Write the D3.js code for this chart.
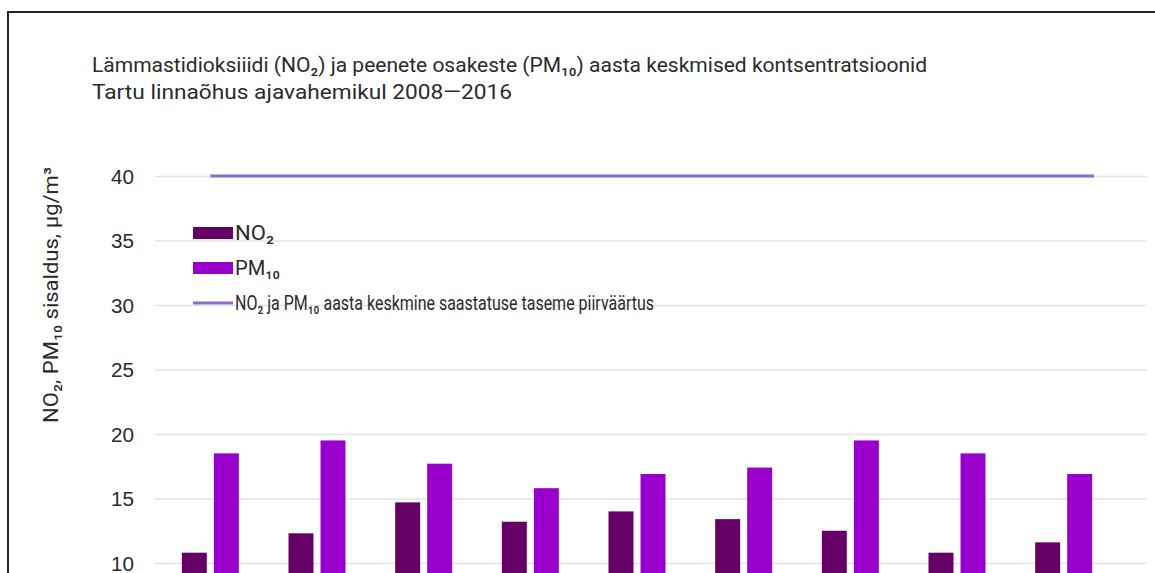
<!DOCTYPE html>
<html>
<head>
<meta charset="utf-8">
<script src="https://cdn.jsdelivr.net/npm/d3@7"></script>
<style>
	body { margin: 0; background: #fff; overflow: hidden; }
	svg { display: block; font-family: Roboto, "Noto Sans", "Liberation Sans", sans-serif; }
	.yAxis .tick text { font-size: 20px; fill: #2b2b2b; }
</style>
</head>
<body>
<div id="chart"></div>
<script>
// data
var years = ['2008', '2009', '2010', '2011', '2012', '2013', '2014', '2015', '2016'];
var no2 = [10.8, 12.3, 14.7, 13.2, 14.0, 13.4, 12.5, 10.8, 11.6];
var pm10 = [18.5, 19.5, 17.7, 15.8, 16.9, 17.4, 19.5, 18.5, 16.9];
var limitValue = [40, 40, 40, 40, 40, 40, 40, 40, 40];
var yTicks = [10, 15, 20, 25, 30, 35, 40];
var gridTicks = [0, 5, 10, 15, 20, 25, 30, 35, 40];
var seriesKeys = ['no2', 'pm10'];
var legendLabels = ['NO\u2082', 'PM\u2081\u2080', 'NO\u2082 ja PM\u2081\u2080 aasta keskmine saastatuse taseme piirväärtus'];

var cfg = {
	w: 1155,
	h: 573,
	left: 155,
	right: 1147,
	barLeft: 157,
	barRight: 1117,
	top: 176,
	zeroY: 692
};
var colors = { no2: '#660066', pm10: '#9900cc', limit: '#8a6bd1', text: '#2b2b2b' };

var svg = d3.select('#chart').append('svg')
	.attr('width', cfg.w)
	.attr('height', cfg.h);

// frame
svg.append('path')
	.attr('d', 'M8,' + (cfg.h + 5) + 'V12H' + (cfg.w + 5))
	.attr('fill', 'none')
	.attr('stroke', '#222')
	.attr('stroke-width', 2);

// title
svg.append('text')
	.attr('x', 92)
	.attr('y', 72)
	.style('font-size', '21px')
	.style('fill', colors.text)
	.attr('textLength', 835)
	.attr('lengthAdjust', 'spacingAndGlyphs')
	.text('Lämmastidioksiiidi (NO\u2082) ja peenete osakeste (PM\u2081\u2080) aasta keskmised kontsentratsioonid');

svg.append('text')
	.attr('x', 92)
	.attr('y', 99)
	.style('font-size', '21px')
	.style('fill', colors.text)
	.attr('textLength', 420)
	.attr('lengthAdjust', 'spacingAndGlyphs')
	.text('Tartu linnaõhus ajavahemikul 2008\u20142016');

// scales
var x = d3.scaleBand()
	.domain(years)
	.range([cfg.barLeft, cfg.barRight])
	.padding(0);
var bw = x.bandwidth();
var xSub = d3.scaleBand()
	.domain(seriesKeys)
	.range([bw / 2 - 28.5, bw / 2 + 28.5])
	.paddingInner(0.22);
var y = d3.scaleLinear()
	.domain([0, 40])
	.range([cfg.zeroY, cfg.top]);

// grid
svg.append('g')
	.classed('grid', true)
	.attr('transform', 'translate(' + cfg.left + ',0)')
	.call(function(g) {
		g.call(d3.axisLeft(y).tickValues(gridTicks).tickSize(-(cfg.right - cfg.left)).tickFormat(''));
		g.select('.domain').remove();
		g.selectAll('.tick line').attr('stroke', '#e3e3e3').attr('stroke-width', 1.3);
	});

// y axis labels
svg.append('g')
	.classed('yAxis', true)
	.attr('transform', 'translate(' + cfg.left + ',0)')
	.call(function(g) {
		g.call(d3.axisLeft(y).tickValues(yTicks).tickSize(0).tickPadding(21));
		g.select('.domain').remove();
		g.selectAll('.tick text')
			.attr('dy', '0.35em')
			.attr('textLength', 23)
			.attr('lengthAdjust', 'spacingAndGlyphs');
	});

// y axis label
svg.append('text')
	.attr('transform', 'translate(58,295) rotate(-90)')
	.attr('text-anchor', 'middle')
	.style('font-size', '20px')
	.style('fill', colors.text)
	.attr('textLength', 256)
	.attr('lengthAdjust', 'spacingAndGlyphs')
	.text('NO\u2082, PM\u2081\u2080 sisaldus, µg/m³');

// bars
var rows = years.map(function(yr, i) {
	return { year: yr, no2: no2[i], pm10: pm10[i] };
});
var groups = svg.append('g')
	.classed('bargroup', true)
	.selectAll('g')
	.data(rows)
	.enter()
	.append('g')
	.attr('transform', function(d) { return 'translate(' + x(d.year) + ',0)'; });

groups.selectAll('rect')
	.data(function(d) {
		return seriesKeys.map(function(k) { return { key: k, value: d[k] }; });
	})
	.enter()
	.append('rect')
	.attr('x', function(d) { return xSub(d.key); })
	.attr('width', xSub.bandwidth())
	.attr('y', function(d) { return y(d.value); })
	.attr('height', function(d) { return cfg.zeroY - y(d.value); })
	.attr('fill', function(d) { return colors[d.key]; });

// limit line
var lineX = d3.scalePoint()
	.domain(years)
	.range([x(years[0]) + bw / 2, cfg.right - 53]);
svg.append('path')
	.datum(limitValue)
	.attr('fill', 'none')
	.attr('stroke', colors.limit)
	.attr('stroke-width', 3)
	.attr('d', d3.line()
		.x(function(d, i) { return lineX(years[i]); })
		.y(function(d) { return y(d); }));

// legend
var legend = svg.append('g').attr('transform', 'translate(193,233)');
var legendTypes = ['rect', 'rect', 'line'];
var legendColors = [colors.no2, colors.pm10, colors.limit];
var legendWidths = [39, 45, 419];
legendLabels.forEach(function(label, i) {
	var g = legend.append('g').attr('transform', 'translate(0,' + (i * 35) + ')');
	if (legendTypes[i] === 'rect') {
		g.append('rect').attr('x', 0).attr('y', -6).attr('width', 40).attr('height', 12).attr('fill', legendColors[i]);
	} else {
		g.append('line').attr('x1', 0).attr('x2', 40).attr('y1', 0).attr('y2', 0)
			.attr('stroke', legendColors[i]).attr('stroke-width', 3);
	}
	g.append('text')
		.attr('x', 42)
		.attr('y', 7)
		.style('font-size', '20px')
		.style('fill', colors.text)
		.attr('textLength', legendWidths[i])
		.attr('lengthAdjust', 'spacingAndGlyphs')
		.text(label);
});
</script>
</body>
</html>
